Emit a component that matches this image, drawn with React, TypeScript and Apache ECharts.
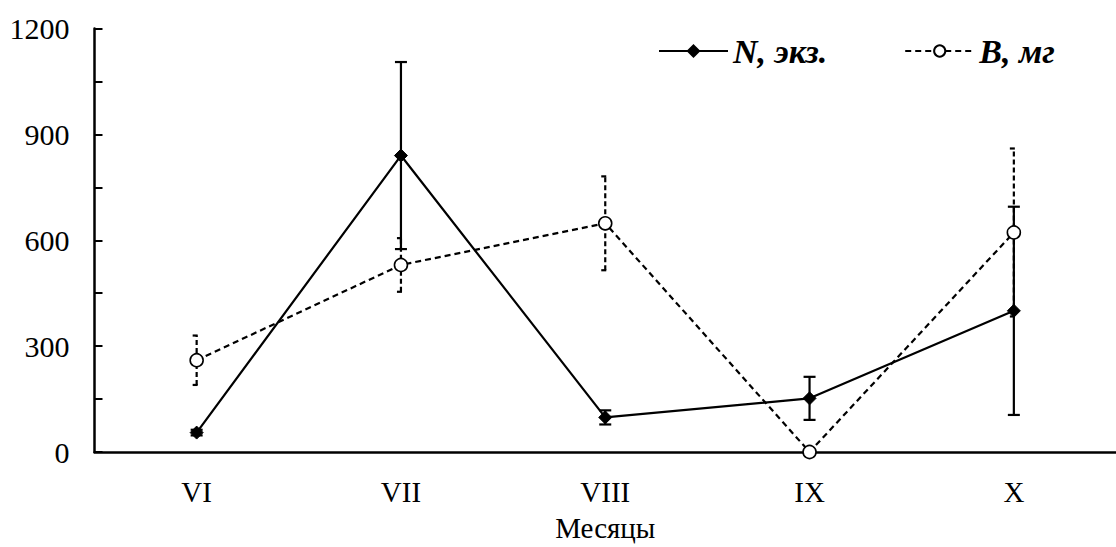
import React, { useEffect, useRef } from "react";
import * as echarts from "echarts";

const categories = ["VI", "VII", "VIII", "IX", "X"];
const nValues = [55, 840, 98, 152, 400];
const nErrors = [8, 265, 20, 61, 295];
const bValues = [260, 530, 648, 0, 622];
const bErrors = [70, 76, 133, 0, 238];
const yTicks = [0, 300, 600, 900, 1200];

const FONT = '"Liberation Serif", "Times New Roman", serif';

function errorData(values: number[], errs: number[]) {
  return values.map((v, i) => [i, v - errs[i], v + errs[i]]);
}

function makeErrorRender(capHalf: number, dashed: boolean) {
  return (params: any, api: any) => {
    const x = api.value(0);
    const lo = api.coord([x, api.value(1)]);
    const hi = api.coord([x, api.value(2)]);
    const style = {
      stroke: "#000",
      lineWidth: 2.2,
      lineDash: dashed ? [5, 3] : null,
      fill: null,
    };
    return {
      type: "group",
      children: [
        { type: "line", shape: { x1: lo[0], y1: lo[1], x2: hi[0], y2: hi[1] }, style },
        { type: "line", shape: { x1: hi[0] - capHalf, y1: hi[1], x2: hi[0] + capHalf, y2: hi[1] }, style },
        { type: "line", shape: { x1: lo[0] - capHalf, y1: lo[1], x2: lo[0] + capHalf, y2: lo[1] }, style },
      ],
    };
  };
}

export default function App() {
  const ref = useRef<HTMLDivElement>(null);
  useEffect(() => {
    if (!ref.current) return;
    const chart = echarts.init(ref.current, null, { renderer: "svg" });
    chart.setOption({
      animation: false,
      backgroundColor: "#fff",
      textStyle: { fontFamily: FONT },
      legend: {
        left: 653,
        top: 29,
        itemWidth: 69,
        itemHeight: 14,
        itemGap: 77,
        textStyle: {
          fontFamily: FONT,
          fontSize: 34,
          fontWeight: "bold",
          fontStyle: "italic",
          color: "#000",
        },
        data: ["N, экз.", "B, мг"],
      },
      grid: { left: 94.5, top: 28.5, width: 1025, bottom: 90 },
      xAxis: {
        type: "category",
        data: categories,
        boundaryGap: true,
        axisLine: { lineStyle: { color: "#000", width: 2.5 } },
        axisTick: { inside: true, length: 8, lineStyle: { color: "#000", width: 2 }, interval: 0 },
        axisLabel: { fontFamily: FONT, fontSize: 29, color: "#000", margin: 25 },
        name: "Месяцы",
        nameLocation: "middle",
        nameGap: 61,
        nameTextStyle: { fontFamily: FONT, fontSize: 29, color: "#000" },
      },
      yAxis: {
        type: "value",
        min: 0,
        max: 1200,
        interval: 150,
        splitLine: { show: false },
        axisLine: { show: true, lineStyle: { color: "#000", width: 2.5 } },
        axisTick: { show: true, inside: true, length: 8, lineStyle: { color: "#000", width: 2 } },
        axisLabel: {
          fontFamily: FONT,
          fontSize: 30,
          color: "#000",
          margin: 25,
          formatter: (v: number) => (yTicks.indexOf(v) >= 0 ? String(v) : ""),
        },
      },
      series: [
        {
          type: "custom",
          name: "N err",
          renderItem: makeErrorRender(6, false),
          data: errorData(nValues, nErrors),
          encode: { x: 0, y: [1, 2] },
          z: 1,
          silent: true,
        },
        {
          type: "custom",
          name: "B err",
          renderItem: makeErrorRender(4, true),
          data: errorData(bValues, bErrors),
          encode: { x: 0, y: [1, 2] },
          z: 1,
          silent: true,
        },
        {
          type: "line",
          name: "N, экз.",
          data: nValues,
          symbol: "diamond",
          symbolSize: 13,
          showAllSymbol: true,
          lineStyle: { color: "#000", width: 2.2, type: "solid" },
          itemStyle: { color: "#000", borderColor: "#000", borderWidth: 1 },
          z: 3,
        },
        {
          type: "line",
          name: "B, мг",
          data: bValues,
          symbol: "circle",
          symbolSize: 13,
          showAllSymbol: true,
          lineStyle: { color: "#000", width: 2.2, type: [6, 4] },
          itemStyle: { color: "#fff", borderColor: "#000", borderWidth: 1.6 },
          z: 4,
        },
      ],
    });
    return () => chart.dispose();
  }, []);
  return (
    <div
      ref={ref}
      style={{ position: "absolute", left: 0, top: 0, width: 1116, height: 547, background: "#fff" }}
    />
  );
}
